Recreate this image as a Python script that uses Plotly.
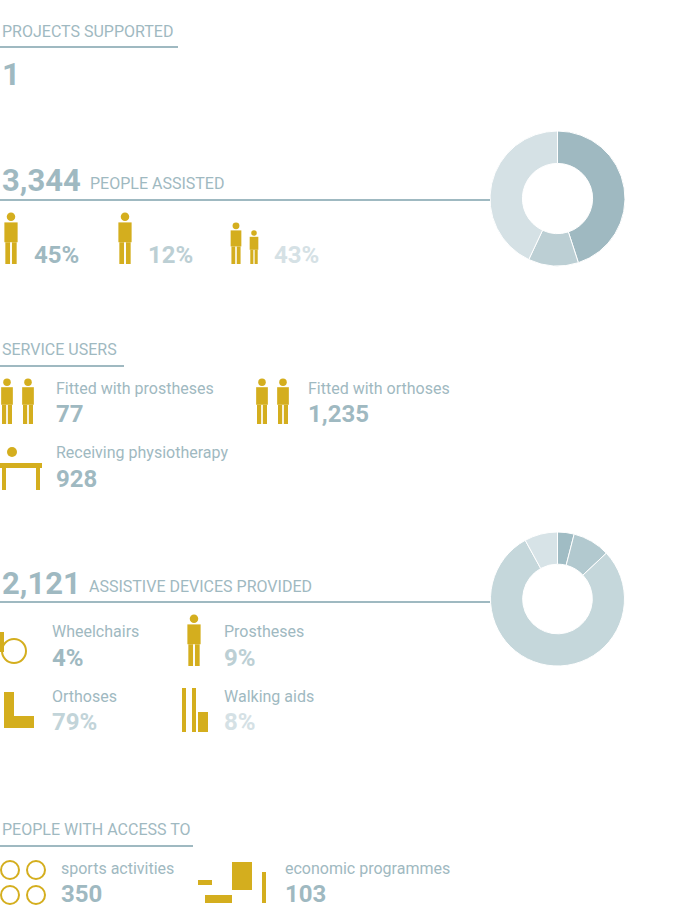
import plotly.graph_objects as go

W, H = 674, 914
people_labels = ["Men", "Women", "Children"]
people_pct = [45, 12, 43]
device_labels = ["Wheelchairs", "Prostheses", "Orthoses", "Walking aids"]
device_pct = [4, 9, 79, 8]
projects = "1"
people_total = "3,344"
devices_total = "2,121"
service_labels = ["Fitted with prostheses", "Fitted with orthoses", "Receiving physiotherapy"]
service_values = ["77", "1,235", "928"]
access_labels = ["sports activities", "economic programmes"]
access_values = ["350", "103"]

DARK = "#9fb9c1"; MED = "#bccfd4"; LIGHT = "#d5e1e5"; GOLD = "#d4ae1e"
FONT = "Liberation Sans Narrow, Roboto, sans-serif"

fig = go.Figure()
fig.add_trace(go.Pie(values=people_pct, labels=people_labels, hole=0.52, sort=False, direction="clockwise",
                     rotation=0, marker=dict(colors=[DARK, MED, LIGHT], line=dict(color="white", width=1)),
                     textinfo="none", hoverinfo="label+percent",
                     domain=dict(x=[490/W, 625/W], y=[1-266/H, 1-131/H])))
fig.add_trace(go.Pie(values=device_pct, labels=device_labels, hole=0.52, sort=False, direction="clockwise",
                     rotation=0, marker=dict(colors=["#a0bcc4", "#b2c9cf", "#c5d7db", "#d7e3e7"], line=dict(color="white", width=1)),
                     textinfo="none", hoverinfo="label+percent",
                     domain=dict(x=[490/W, 625/W], y=[1-666/H, 1-532/H])))

ann = []
def t(x, y, s, size, color=DARK, bold=False):
    ann.append(dict(x=x, y=y, xref="x", yref="y", text=("<b>%s</b>" % s) if bold else s, showarrow=False,
                    xanchor="left", yanchor="middle", font=dict(family=FONT, size=size, color=color)))
shapes = []
def line(x0, x1, y):
    shapes.append(dict(type="line", xref="x", yref="y", x0=x0, x1=x1, y0=y, y1=y, line=dict(color=DARK, width=2)))
def rect(x0, y0, x1, y1, c=GOLD):
    shapes.append(dict(type="rect", xref="x", yref="y", x0=x0, x1=x1, y0=y0, y1=y1, fillcolor=c, line=dict(width=0)))
def circ(cx, cy, r, c=GOLD, fill=True):
    shapes.append(dict(type="circle", xref="x", yref="y", x0=cx-r, x1=cx+r, y0=cy-r, y1=cy+r,
                       fillcolor=c if fill else "rgba(0,0,0,0)", line=dict(width=0 if fill else 2, color=c)))
def person(x, top, h):
    s = h / 55
    circ(x, top + 5*s, 4.5*s)
    rect(x - 7*s, top + 11*s, x + 7*s, top + 32*s)
    rect(x - 6*s, top + 32*s, x - 1*s, top + 55*s)
    rect(x + 1*s, top + 32*s, x + 6*s, top + 55*s)

t(0, 31, "PROJECTS SUPPORTED", 16); line(0, 178, 47)
t(0, 74, projects, 32, bold=True)

t(0, 180, people_total, 31, bold=True); t(88, 183, "PEOPLE ASSISTED", 16); line(0, 490, 200)
person(11, 212, 52); t(32, 255, "%d%%" % people_pct[0], 24, DARK, True)
person(125, 212, 52); t(146, 255, "%d%%" % people_pct[1], 24, MED, True)
person(236, 222, 42); person(254, 230, 34); t(272, 255, "%d%%" % people_pct[2], 24, LIGHT, True)

t(0, 349, "SERVICE USERS", 16); line(0, 124, 366)
person(7, 378, 46); person(28, 378, 46)
t(54, 388, service_labels[0], 16); t(54, 414, service_values[0], 24, bold=True)
person(262, 378, 46); person(283, 378, 46)
t(306, 388, service_labels[1], 16); t(306, 414, service_values[1], 24, bold=True)
circ(12, 452, 5); rect(0, 463, 42, 468); rect(2, 468, 6, 490); rect(36, 468, 40, 490)
t(54, 452, service_labels[2], 16); t(54, 479, service_values[2], 24, bold=True)

t(0, 583, devices_total, 31, bold=True); t(87, 586, "ASSISTIVE DEVICES PROVIDED", 16); line(0, 490, 602)
circ(14, 651, 12, fill=False); rect(0, 632, 4, 652)
t(50, 631, "Wheelchairs", 16); t(50, 658, "%d%%" % device_pct[0], 24, DARK, True)
person(194, 614, 52)
t(222, 631, "Prostheses", 16); t(222, 658, "%d%%" % device_pct[1], 24, MED, True)
rect(4, 692, 14, 722); rect(4, 716, 34, 728)
t(50, 696, "Orthoses", 16); t(50, 722, "%d%%" % device_pct[2], 24, "#c2d4d9", True)
rect(182, 688, 186, 732); rect(192, 688, 196, 732); rect(198, 712, 208, 732)
t(222, 696, "Walking aids", 16); t(222, 722, "%d%%" % device_pct[3], 24, LIGHT, True)

t(0, 829, "PEOPLE WITH ACCESS TO", 16); line(0, 193, 846)
for cx, cy in [(10, 870), (36, 870), (10, 895), (36, 895)]:
    circ(cx, cy, 9, fill=False)
t(59, 868, access_labels[0], 16); t(59, 894, access_values[0], 24, bold=True)
rect(198, 880, 212, 885); rect(205, 895, 232, 903); rect(232, 862, 252, 890); rect(262, 872, 266, 903)
t(283, 868, access_labels[1], 16); t(283, 894, access_values[1], 24, bold=True)

fig.update_layout(width=W, height=H, margin=dict(l=0, r=0, t=0, b=0), paper_bgcolor="white", plot_bgcolor="white",
                  showlegend=False, annotations=ann, shapes=shapes,
                  xaxis=dict(range=[0, W], visible=False, fixedrange=True),
                  yaxis=dict(range=[H, 0], visible=False, fixedrange=True))
fig.write_html("out.html", config={"displayModeBar": False},
               post_script="document.body.style.margin='0';document.body.style.overflow='hidden';")
